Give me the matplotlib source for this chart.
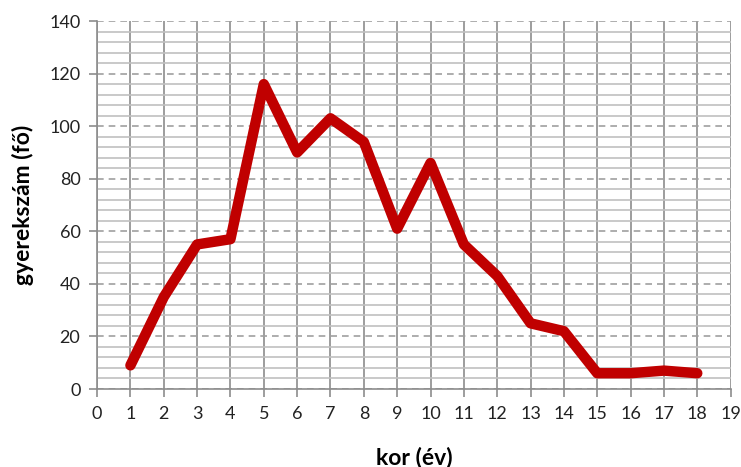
import matplotlib
matplotlib.use('Agg')
import matplotlib.pyplot as plt
from matplotlib.ticker import MultipleLocator

ages = [1, 2, 3, 4, 5, 6, 7, 8, 9, 10, 11, 12, 13, 14, 15, 16, 17, 18]
counts = [9, 35, 55, 57, 116, 90, 103, 94, 61, 86, 55, 43, 25, 22, 6, 6, 7, 6]

plt.rcParams['font.family'] = ['Lato', 'DejaVu Sans']

fig = plt.figure(figsize=(7.41, 4.67), dpi=100)
ax = fig.add_axes([0.131, 0.167, 0.855, 0.788])

ax.set_xlim(0, 19)
ax.set_ylim(0, 140)
ax.xaxis.set_major_locator(MultipleLocator(1))
ax.yaxis.set_major_locator(MultipleLocator(20))
ax.yaxis.set_minor_locator(MultipleLocator(4))

# grid: minor solid light, major dashed, vertical solid
ax.grid(which='minor', axis='y', color='#c0c0c0', linewidth=1.2, linestyle='-')
ax.grid(which='major', axis='y', color='#a0a0a0', linewidth=1.2, linestyle=(0, (4, 3)))
ax.grid(which='major', axis='x', color='#8c8c8c', linewidth=1.2, linestyle='-')
ax.set_axisbelow(True)

ax.plot(ages, counts, color='#c00000', linewidth=7.5, solid_capstyle='round',
        solid_joinstyle='round', zorder=3)

for s in ['top', 'right']:
    ax.spines[s].set_visible(False)
for s in ['left', 'bottom']:
    ax.spines[s].set_color('#8c8c8c')
    ax.spines[s].set_linewidth(1.2)

ax.tick_params(which='major', direction='out', length=6, color='#8c8c8c', width=1.2,
               labelsize=13, labelcolor='#222222', pad=6)
ax.tick_params(which='minor', length=0)

ax.set_xlabel('kor (év)', fontsize=16.5, fontweight='bold', va='center')
ax.set_ylabel('gyerekszám (fő)', fontsize=16.5, fontweight='bold', va='center')
ax.xaxis.set_label_coords(0.5, -0.185)
ax.yaxis.set_label_coords(-0.117, 0.5)

fig.savefig('out.png', dpi=100)
